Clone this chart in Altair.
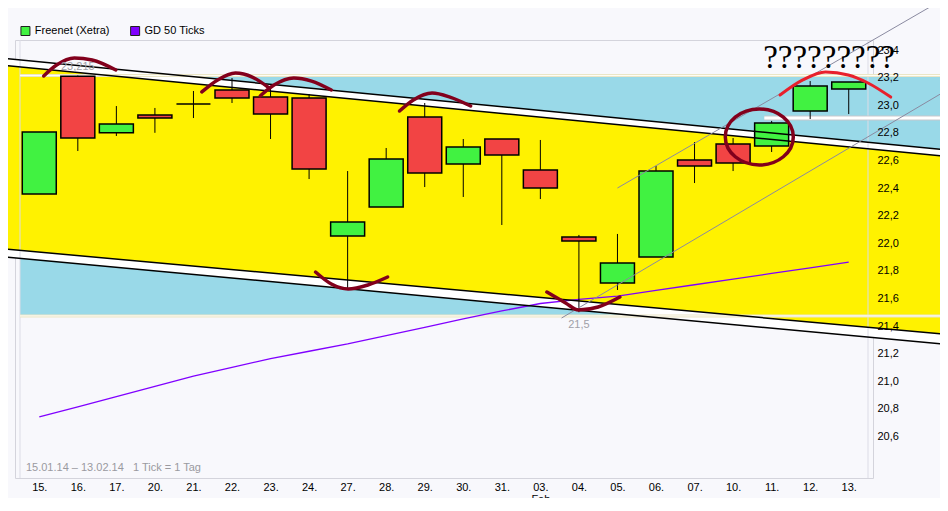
import altair as alt
import pandas as pd

# ---------------- data ----------------
days = ["15.", "16.", "17.", "20.", "21.", "22.", "23.", "24.", "27.", "28.", "29.",
        "30.", "31.", "03.", "04.", "05.", "06.", "07.", "10.", "11.", "12.", "13."]
opens = [22.357, 23.210, 22.800, 22.929, 23.009, 23.110, 23.059, 23.052, 22.052, 22.262, 22.914,
         22.574, 22.755, 22.530, 22.045, 21.712, 21.900, 22.603, 22.719, 22.704, 22.958, 23.117]
highs = [22.806, 23.215, 22.994, 22.980, 23.103, 23.197, 23.125, 23.081, 22.523, 22.690, 23.016,
         22.755, 22.755, 22.748, 22.060, 22.067, 22.560, 22.733, 22.762, 22.886, 23.175, 23.168]
lows = [22.357, 22.668, 22.777, 22.800, 22.907, 23.016, 22.755, 22.465, 21.675, 22.262, 22.407,
        22.335, 22.132, 22.320, 21.500, 21.661, 21.900, 22.436, 22.523, 22.661, 22.900, 22.936]
closes = [22.806, 22.762, 22.864, 22.907, 23.009, 23.052, 22.936, 22.538, 22.154, 22.610, 22.509,
          22.697, 22.639, 22.400, 22.016, 21.857, 22.523, 22.559, 22.581, 22.871, 23.139, 23.168]
gd50 = [20.741, 20.814, 20.888, 20.962, 21.036, 21.101, 21.164, 21.217, 21.270, 21.330, 21.390,
        21.451, 21.509, 21.563, 21.593, 21.617, 21.658, 21.699, 21.740, 21.781, 21.822, 21.863]
y_ticks = [20.6, 20.8, 21.0, 21.2, 21.4, 21.6, 21.8, 22.0, 22.2, 22.4, 22.6, 22.8, 23.0, 23.2, 23.4]

# trend channel (two double lines), given at day index -1 and 24
ch_x = [-1, 24]
top_upper = [23.3415, 22.6638]
top_lower = [23.2908, 22.6163]
bot_upper = [21.9609, 21.3275]
bot_lower = [21.9030, 21.2545]

# thin grey rising lines
gray1_x = [15.0, 24.0]
gray1_y = [22.400, 23.856]
gray2_x = [13.55, 24.0]
gray2_y = [21.458, 23.184]

# horizontal levels / zones
blue_zone = {"x": -0.5, "x2": 24, "y": 23.215, "y2": 21.473}
levels = [23.215, 21.473]
white_bar = {"x": 18.81, "x2": 24, "y": 22.907}

# hand drawn annotations (day index, price)
arcs_dark = {
    "a1": [(0.115, 23.212), (0.449, 23.291), (0.910, 23.342), (1.372, 23.328), (1.987, 23.255)],
    "a2": [(4.218, 23.096), (4.628, 23.183), (5.090, 23.233), (5.526, 23.204), (5.962, 23.125)],
    "a3": [(5.731, 23.067), (6.090, 23.146), (6.603, 23.197), (7.064, 23.175), (7.577, 23.110)],
    "a4": [(9.346, 22.958), (9.705, 23.038), (10.192, 23.088), (10.654, 23.059), (11.192, 22.994)],
    "a5": [(7.167, 21.791), (7.577, 21.704), (8.013, 21.668), (8.526, 21.697), (9.038, 21.755)],
    "a6": [(13.167, 21.646), (13.654, 21.567), (13.987, 21.516), (14.500, 21.538), (15.064, 21.610)],
}
arc_red = [(19.218, 23.074), (19.808, 23.183), (20.397, 23.241), (20.987, 23.219), (21.500, 23.161), (22.090, 23.059)]
ellipse_center = (18.68, 22.770)
qmarks = {"x": 18.78, "y": 23.2696, "t": "?????????"}

legend_names = ["Freenet (Xetra)", "GD 50 Ticks"]
legend_sym_x = [-0.359, 2.487]
legend_txt_x = [-0.115, 2.731]
legend_y = 23.5377
info_text = "15.01.14 \u2013 13.02.14\u00a0\u00a0\u00a01 Tick = 1 Tag"
info_pos = (-0.346, 20.371)

# ---------------- styles ----------------
GREEN = "#41f241"
RED = "#f24444"
YELLOW = "#fff200"
BLUE = "#99d9e8"
DARKRED = "#82001c"
BRIGHTRED = "#e8202c"
PURPLE = "#8000ff"
GRAYLINE = "#8a8aa0"
BG = "#f8f8fc"
FONT = "Liberation Sans"

XS = alt.Scale(domain=[-0.5, 21.5], nice=False, zero=False)
YS = alt.Scale(domain=[20.2986, 23.4725], nice=False, zero=False)

lab_js = "[" + ",".join("'%s'" % d for d in days) + "]"
xaxis = alt.Axis(values=list(range(len(days))),
                 labelExpr="datum.value == 13 ? [%s[13], 'Feb'] : %s[datum.value]" % (lab_js, lab_js),
                 title=None, ticks=False, domain=False, grid=False, labelPadding=3,
                 labelFont=FONT, labelFontSize=11, labelColor="#000000",
                 labelOverlap=False, labelFlush=False, labelLineHeight=12, zindex=1)
yaxis = alt.Axis(orient="right", values=y_ticks,
                 labelExpr="replace(format(datum.value, '.1f'), '.', ',')",
                 title=None, ticks=False, domain=False, grid=False, labelPadding=4,
                 labelFont=FONT, labelFontSize=11, labelColor="#000000", labelOverlap=False,
                 zindex=1)


def xq(f):
    return alt.X(f, type="quantitative", scale=XS, axis=xaxis)


def yq(f):
    return alt.Y(f, type="quantitative", scale=YS, axis=yaxis)


layers = []

# blue zone
layers.append(alt.Chart(pd.DataFrame([blue_zone])).mark_rect(color=BLUE, clip=False)
              .encode(x=xq("x"), x2="x2", y=yq("y"), y2="y2"))

ch = pd.DataFrame({"x": ch_x, "tu": top_upper, "tl": top_lower, "bu": bot_upper, "bl": bot_lower})
layers.append(alt.Chart(ch).mark_area(color=YELLOW, clip=False).encode(x=xq("x"), y=yq("tl"), y2="bu"))
layers.append(alt.Chart(ch).mark_area(color="#ffffff", clip=False).encode(x=xq("x"), y=yq("tu"), y2="tl"))
layers.append(alt.Chart(ch).mark_area(color="#ffffff", clip=False).encode(x=xq("x"), y=yq("bu"), y2="bl"))

# frame lines drawn over fills
vb = pd.DataFrame({"x": [-0.5, 21.5], "y": [YS.domain[0]] * 2, "y2": [YS.domain[1]] * 2})
layers.append(alt.Chart(vb).mark_rule(color="#dcdce6", strokeWidth=1, clip=False)
              .encode(x=xq("x"), y=yq("y"), y2="y2"))

# level lines
lv = pd.DataFrame({"y": levels, "x": [blue_zone["x"]] * 2, "x2": [blue_zone["x2"]] * 2})
layers.append(alt.Chart(lv).mark_rule(color="#ebe6c6", strokeWidth=3, clip=False)
              .encode(x=xq("x"), x2="x2", y=yq("y")))
layers.append(alt.Chart(lv).mark_rule(color="#fefdf6", strokeWidth=1, clip=False)
              .encode(x=xq("x"), x2="x2", y=yq("y")))

wb = pd.DataFrame([white_bar])
layers.append(alt.Chart(wb).mark_rule(color="#c8c8cc", strokeWidth=5, clip=False)
              .encode(x=xq("x"), x2="x2", y=yq("y")))
layers.append(alt.Chart(wb).mark_rule(color="#ffffff", strokeWidth=3, clip=False)
              .encode(x=xq("x"), x2="x2", y=yq("y")))

# GD 50 line
gd = pd.DataFrame({"i": list(range(len(days))), "v": gd50})
layers.append(alt.Chart(gd).mark_line(color=PURPLE, strokeWidth=1.3, clip=False)
              .encode(x=xq("i"), y=yq("v")))

# candles
cd = pd.DataFrame({"i": list(range(len(days))), "o": opens, "h": highs, "l": lows, "c": closes,
                   "dir": ["up" if c > o else "down" for o, c in zip(opens, closes)]})
layers.append(alt.Chart(cd).mark_rule(color="#000000", strokeWidth=1, clip=False)
              .encode(x=xq("i"), y=yq("l"), y2="h"))
layers.append(alt.Chart(cd).mark_bar(size=34, stroke="#000000", strokeWidth=1.5, clip=False)
              .encode(x=xq("i"), y=yq("o"), y2="c",
                      color=alt.Color("dir:N", scale=alt.Scale(domain=["up", "down"], range=[GREEN, RED]),
                                      legend=None)))

# channel black lines (over candles)
for arr in (top_upper, top_lower, bot_upper, bot_lower):
    d = pd.DataFrame({"x": ch_x, "y": arr})
    layers.append(alt.Chart(d).mark_line(color="#000000", strokeWidth=1.5, clip=False)
                  .encode(x=xq("x"), y=yq("y")))

# grey rising lines
for gx, gy in ((gray1_x, gray1_y), (gray2_x, gray2_y)):
    d = pd.DataFrame({"x": gx, "y": gy})
    layers.append(alt.Chart(d).mark_line(color=GRAYLINE, strokeWidth=1, clip=False)
                  .encode(x=xq("x"), y=yq("y")))

# annotation arcs
rows = []
for k, pts in arcs_dark.items():
    for n, (a, b) in enumerate(pts):
        rows.append({"arc": k, "n": n, "x": a, "y": b})
ad = pd.DataFrame(rows)
layers.append(alt.Chart(ad).mark_line(color=DARKRED, strokeWidth=3.5, interpolate="monotone",
                                      strokeCap="round", clip=False)
              .encode(x=xq("x"), y=yq("y"), detail="arc:N", order="n:Q"))
ar = pd.DataFrame({"x": [p[0] for p in arc_red], "y": [p[1] for p in arc_red]})
layers.append(alt.Chart(ar).mark_line(color=BRIGHTRED, strokeWidth=3, interpolate="monotone",
                                      strokeCap="round", clip=False)
              .encode(x=xq("x"), y=yq("y")))

ell_path = ("M -1 0 C -1 -0.455 -0.552 -0.824 0 -0.824 C 0.552 -0.824 1 -0.455 1 0 "
            "C 1 0.455 0.552 0.824 0 0.824 C -0.552 0.824 -1 0.455 -1 0 Z")
el = pd.DataFrame({"x": [ellipse_center[0]], "y": [ellipse_center[1]]})
layers.append(alt.Chart(el).mark_point(shape=ell_path, size=4624, filled=False, stroke=DARKRED,
                                       strokeWidth=3.5, opacity=1, clip=False)
              .encode(x=xq("x"), y=yq("y")))

# texts
qm = pd.DataFrame([qmarks])
layers.append(alt.Chart(qm).mark_text(align="left", baseline="alphabetic", font="Liberation Serif",
                                      fontSize=33, color="#000000", clip=False)
              .encode(x=xq("x"), y=yq("y"), text="t:N"))

hi = pd.DataFrame({"x": [1], "y": [highs[1]], "t": [("%.3f" % highs[1]).replace(".", ",")]})
layers.append(alt.Chart(hi).mark_text(align="center", baseline="bottom", dy=-4, font=FONT, fontSize=11,
                                      color="#a0a0a8", clip=False)
              .encode(x=xq("x"), y=yq("y"), text="t:N"))
lo = pd.DataFrame({"x": [14], "y": [lows[14]], "t": [("%.1f" % lows[14]).replace(".", ",")]})
layers.append(alt.Chart(lo).mark_text(align="center", baseline="top", dy=7, font=FONT, fontSize=11,
                                      color="#a0a0a8", clip=False)
              .encode(x=xq("x"), y=yq("y"), text="t:N"))

inf = pd.DataFrame({"x": [info_pos[0]], "y": [info_pos[1]], "t": [info_text]})
layers.append(alt.Chart(inf).mark_text(align="left", baseline="middle", font=FONT, fontSize=11,
                                       color="#9a9aa0", clip=False)
              .encode(x=xq("x"), y=yq("y"), text="t:N"))

lg = pd.DataFrame({"x": legend_sym_x, "tx": legend_txt_x, "y": [legend_y] * 2, "t": legend_names,
                   "c": [GREEN, PURPLE]})
layers.append(alt.Chart(lg).mark_point(shape="square", size=81, filled=True, stroke="#202020",
                                       strokeWidth=1, opacity=1, clip=False)
              .encode(x=xq("x"), y=yq("y"), fill=alt.Fill("c:N", scale=None)))
layers.append(alt.Chart(lg).mark_text(align="left", baseline="middle", font=FONT, fontSize=11,
                                      color="#000000", clip=False)
              .encode(x=xq("tx"), y=yq("y"), text="t:N"))

chart = alt.layer(*layers).properties(
    width=858, height=438,
    padding={"left": 7, "top": 32, "right": 67, "bottom": 20},
    autosize=alt.AutoSizeParams(type="none"),
    background=BG,
).configure_view(fill=BG, stroke="#d4d4dc", strokeWidth=1)

chart.save("out.html", embed_options={"renderer": "svg", "actions": False})
